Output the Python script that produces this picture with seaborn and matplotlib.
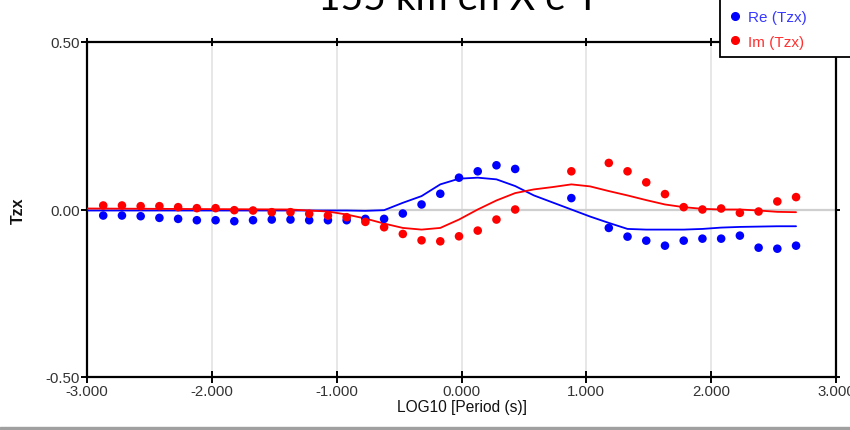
import pandas as pd
import matplotlib.pyplot as plt
import seaborn as sns
from matplotlib.patches import Rectangle
from matplotlib.lines import Line2D

# puntos medidos (LOG10 del periodo)
log_period = [-2.87, -2.72, -2.57, -2.42, -2.27, -2.12, -1.97, -1.82, -1.67, -1.52,
              -1.37, -1.22, -1.07, -0.92, -0.77, -0.62, -0.47, -0.32, -0.17, -0.02,
              0.13, 0.28, 0.43, 0.88, 1.18, 1.33, 1.48, 1.63, 1.78, 1.93,
              2.08, 2.23, 2.38, 2.53, 2.68]
re_tzx = [-0.018, -0.018, -0.020, -0.025, -0.028, -0.032, -0.032, -0.035, -0.032, -0.030,
          -0.030, -0.032, -0.032, -0.032, -0.028, -0.028, -0.012, 0.015, 0.047, 0.095,
          0.114, 0.132, 0.121, 0.034, -0.055, -0.081, -0.093, -0.108, -0.093, -0.087,
          -0.087, -0.078, -0.114, -0.117, -0.108]
im_tzx = [0.012, 0.012, 0.010, 0.010, 0.007, 0.004, 0.004, -0.002, -0.003, -0.008,
          -0.008, -0.013, -0.018, -0.023, -0.037, -0.053, -0.073, -0.092, -0.095, -0.080,
          -0.063, -0.030, 0.000, 0.114, 0.139, 0.114, 0.081, 0.046, 0.007, 0.000,
          0.003, -0.010, -0.006, 0.024, 0.037]

# curvas del modelo
model_period = [-3.00, -1.37, -1.07, -0.92, -0.77, -0.62, -0.47, -0.32, -0.17, -0.02,
                0.13, 0.28, 0.43, 0.58, 0.73, 0.88, 1.03, 1.18, 1.33, 1.48,
                1.63, 1.78, 1.93, 2.08, 2.23, 2.38, 2.53, 2.68]
re_model = [-0.003, -0.003, -0.003, -0.003, -0.004, -0.002, 0.020, 0.040, 0.075, 0.092,
            0.095, 0.090, 0.070, 0.042, 0.021, 0.000, -0.021, -0.040, -0.058, -0.060,
            -0.060, -0.060, -0.058, -0.054, -0.052, -0.051, -0.050, -0.050]
im_model = [0.003, 0.000, -0.006, -0.015, -0.027, -0.042, -0.055, -0.060, -0.055, -0.030,
            0.000, 0.027, 0.049, 0.060, 0.067, 0.075, 0.069, 0.055, 0.042, 0.028,
            0.015, 0.007, 0.002, 0.000, 0.000, -0.003, -0.007, -0.008]

x_ticks = [-3, -2, -1, 0, 1, 2, 3]
x_tick_labels = ["-3.000", "-2.000", "-1.000", "0.000", "1.000", "2.000", "3.000"]
y_ticks = [-0.5, 0.0, 0.5]
y_tick_labels = ["-0.50", "0.00", "0.50"]

df_pts = pd.DataFrame({"x": log_period, "re": re_tzx, "im": im_tzx})
df_mod = pd.DataFrame({"x": model_period, "re": re_model, "im": im_model})

sns.set_theme(style="white")
plt.rcParams["font.family"] = ["Liberation Sans", "DejaVu Sans"]

fig = plt.figure(figsize=(8.5, 4.31), dpi=100)
ax = fig.add_axes([87 / 850, 53 / 431, 749 / 850, 335 / 431])

sns.lineplot(x="x", y="re", data=df_mod, ax=ax, color="#0000ff", linewidth=1.3,
             sort=False, estimator=None, zorder=3)
sns.lineplot(x="x", y="im", data=df_mod, ax=ax, color="#ff0000", linewidth=1.3,
             sort=False, estimator=None, zorder=3)
sns.scatterplot(x="x", y="re", data=df_pts, ax=ax, color="#0000ff", s=38,
                edgecolor="none", zorder=4)
sns.scatterplot(x="x", y="im", data=df_pts, ax=ax, color="#ff0000", s=38,
                edgecolor="none", zorder=4)

ax.set_xlim(-3, 3)
ax.set_ylim(-0.5, 0.5)
ax.set_xticks(x_ticks)
ax.set_xticklabels(x_tick_labels)
ax.set_yticks(y_ticks)
ax.set_yticklabels(y_tick_labels)
ax.grid(True, axis="x", color="#e3e3e3", linewidth=1.2)
ax.axhline(0, color="#cfcfcf", linewidth=1.6, zorder=1)
ax.set_axisbelow(True)

for side in ["left", "right", "top", "bottom"]:
    ax.spines[side].set_color("black")
    ax.spines[side].set_linewidth(1.6)

ax.tick_params(axis="both", which="major", labelsize=10.8, labelcolor="#333333",
               color="black", width=1.4, length=8, direction="inout",
               bottom=True, left=True, pad=1)
ax.tick_params(axis="x", top=True, labeltop=False)
ax.tick_params(axis="y", right=True, labelright=False)
for t in ax.xaxis.get_major_ticks():
    t.tick2line.set_markersize(6)
for t in ax.yaxis.get_major_ticks():
    t.tick2line.set_markersize(6)

ax.set_xlabel("LOG10 [Period (s)]", fontsize=11.2, color="#111111", labelpad=1)
ax.set_ylabel("Tzx", fontsize=11.5, fontweight="bold", color="#111111", labelpad=14)

# recuadro de la leyenda, cortado arriba y a la derecha
fig.add_artist(Rectangle((720 / 850, 373 / 431), 150 / 850, 70 / 431,
                         transform=fig.transFigure, facecolor="white",
                         edgecolor="black", linewidth=1.3, zorder=4))

handles = [Line2D([], [], marker="o", linestyle="none", color="#0000ff", markersize=5.5),
           Line2D([], [], marker="o", linestyle="none", color="#ff0000", markersize=5.5)]
leg = fig.legend(handles, ["Re (Tzx)", "Im (Tzx)"], loc="lower left",
                 bbox_to_anchor=(720 / 850, 373 / 431, 0.2, 0.2), mode="expand",
                 borderaxespad=0, fontsize=11, labelcolor=["#3838ff", "#ff3030"],
                 frameon=False, handlelength=0.8, handletextpad=0.45,
                 labelspacing=0.68, borderpad=0.55)
leg.set_zorder(5)

# título cortado arriba
fig.text(0.540, 421 / 431, "155 km en X e Y", ha="center", va="baseline",
         fontsize=28, family=["Lato", "DejaVu Sans"], color="black")

# banda gris inferior
fig.add_artist(Rectangle((0, 0), 1, 3 / 431, transform=fig.transFigure,
                         color="#a0a0a0", zorder=10))

fig.savefig("out.png", dpi=100)
